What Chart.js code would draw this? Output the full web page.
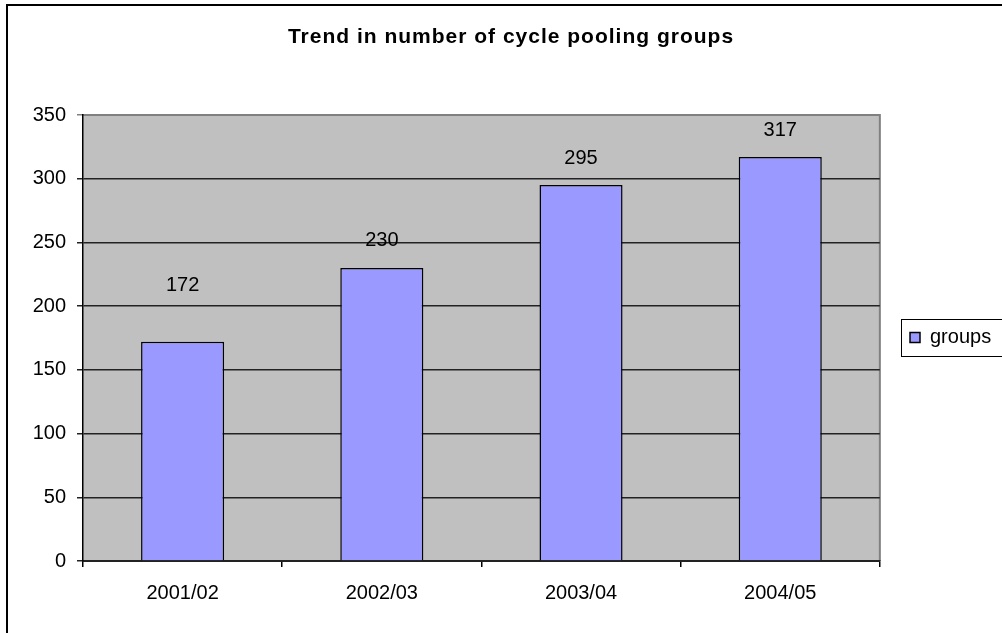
<!DOCTYPE html>
<html><head><meta charset="utf-8">
<script src="https://cdn.jsdelivr.net/npm/chart.js@4"></script>
<style>html,body{margin:0;padding:0;background:#fff}canvas{display:block}</style>
</head><body>
<canvas id="c" width="1002" height="633"></canvas>
<script>
const categories = ['2001/02', '2002/03', '2003/04', '2004/05'];
const groups = [172, 230, 295, 317];
const yTicks = [0, 50, 100, 150, 200, 250, 300, 350];
const seriesName = 'groups';
const titleText = 'Trend in number of cycle pooling groups';
const labelLift = [56, 27, 27, 27];

const FONT = "'Liberation Sans', Arial, sans-serif";
const PLOT_LEFT = 83, PLOT_BOTTOM = 561;
const PAD_L = 20, PAD_R = 0;
const LEGEND_SWATCH_X = 910, LEGEND_CENTER_Y = 337.5;

const decor = {
  id: 'decor',
  afterInit(chart) {
    const tb = chart.titleBlock;
    if (tb) {
      const orig = tb.draw.bind(tb);
      tb.draw = function () {
        const ctx = chart.ctx;
        ctx.save();
        try { ctx.letterSpacing = '1px'; } catch (e) {}
        orig();
        ctx.restore();
      };
    }
  },
  afterLayout(chart) {
    const lg = chart.legend;
    if (!lg) return;
    const dx = LEGEND_SWATCH_X - (lg.left + lg.options.labels.padding);
    const dy = LEGEND_CENTER_Y - (lg.top + lg.bottom) / 2;
    lg.left += dx; lg.right += dx;
    lg.top += dy; lg.bottom += dy;
  },
  beforeDraw(chart) {
    const { ctx, chartArea: a } = chart;
    ctx.save();
    ctx.fillStyle = '#C0C0C0';
    ctx.fillRect(a.left, a.top, a.right - a.left, a.bottom - a.top);
    ctx.strokeStyle = '#808080';
    ctx.lineWidth = 2;
    ctx.beginPath();
    ctx.moveTo(a.left, a.top);
    ctx.lineTo(a.right, a.top);
    ctx.lineTo(a.right, a.bottom);
    ctx.stroke();
    ctx.restore();
  },
  afterDatasetsDraw(chart) {
    const { ctx } = chart;
    const meta = chart.getDatasetMeta(0);
    ctx.save();
    ctx.font = '20px ' + FONT;
    ctx.fillStyle = '#000';
    ctx.textAlign = 'center';
    ctx.textBaseline = 'middle';
    meta.data.forEach((bar, i) => {
      ctx.fillText(String(groups[i]), bar.x, bar.y - labelLift[i]);
    });
    ctx.restore();
  },
  afterDraw(chart) {
    const { ctx } = chart;
    ctx.save();
    const lg = chart.legend;
    if (lg && lg.legendHitBoxes && lg.legendHitBoxes.length) {
      const hb = lg.legendHitBoxes[0];
      const cy = hb.top + hb.height / 2;
      ctx.strokeStyle = '#000';
      ctx.lineWidth = 1;
      ctx.strokeRect(Math.round(hb.left - 9) + 0.5, Math.round(cy - 18.5) + 0.5, 300, 37);
    }
    ctx.strokeStyle = '#000';
    ctx.lineWidth = 2;
    ctx.strokeRect(7, 5, 1200, 1200);
    ctx.restore();
  }
};

new Chart(document.getElementById('c'), {
  type: 'bar',
  data: {
    labels: categories,
    datasets: [{
      label: seriesName,
      data: groups,
      backgroundColor: '#9999FF',
      borderColor: '#000',
      borderWidth: 1.5,
      barPercentage: 0.417,
      categoryPercentage: 1.0
    }]
  },
  options: {
    responsive: false,
    animation: false,
    events: [],
    layout: { padding: { left: PAD_L, right: PAD_R, top: 0, bottom: 0 } },
    plugins: {
      title: {
        display: true,
        text: titleText,
        color: '#000',
        font: { family: FONT, size: 21, weight: 'bold' },
        padding: { top: 25, bottom: 64.8 }
      },
      legend: {
        display: true,
        position: 'right',
        labels: {
          color: '#000',
          font: { family: FONT, size: 20 },
          boxWidth: 10,
          boxHeight: 10,
          padding: 31
        }
      },
      tooltip: { enabled: false }
    },
    scales: {
      x: {
        offset: true,
        grid: {
          display: true,
          drawOnChartArea: false,
          drawTicks: true,
          tickLength: 6,
          offset: true,
          color: '#000',
          lineWidth: 1.5
        },
        border: { display: true, color: '#222', width: 2 },
        ticks: {
          color: '#000',
          font: { family: FONT, size: 20 },
          padding: 14,
          maxRotation: 0
        },
        afterFit(scale) { scale.height = 633 - PLOT_BOTTOM; }
      },
      y: {
        min: yTicks[0],
        max: yTicks[yTicks.length - 1],
        afterBuildTicks(scale) { scale.ticks = yTicks.map(v => ({ value: v })); },
        grid: {
          display: true,
          drawTicks: true,
          tickLength: 6,
          color: (c) => (c.tick && c.tick.value === yTicks[yTicks.length - 1]) ? '#808080' : '#222',
          lineWidth: 1.5
        },
        border: { display: true, color: '#000', width: 1.5 },
        ticks: {
          color: '#000',
          font: { family: FONT, size: 20 },
          padding: 11
        },
        afterFit(scale) { scale.width = PLOT_LEFT - PAD_L; }
      }
    }
  },
  plugins: [decor]
});
</script>
</body></html>
